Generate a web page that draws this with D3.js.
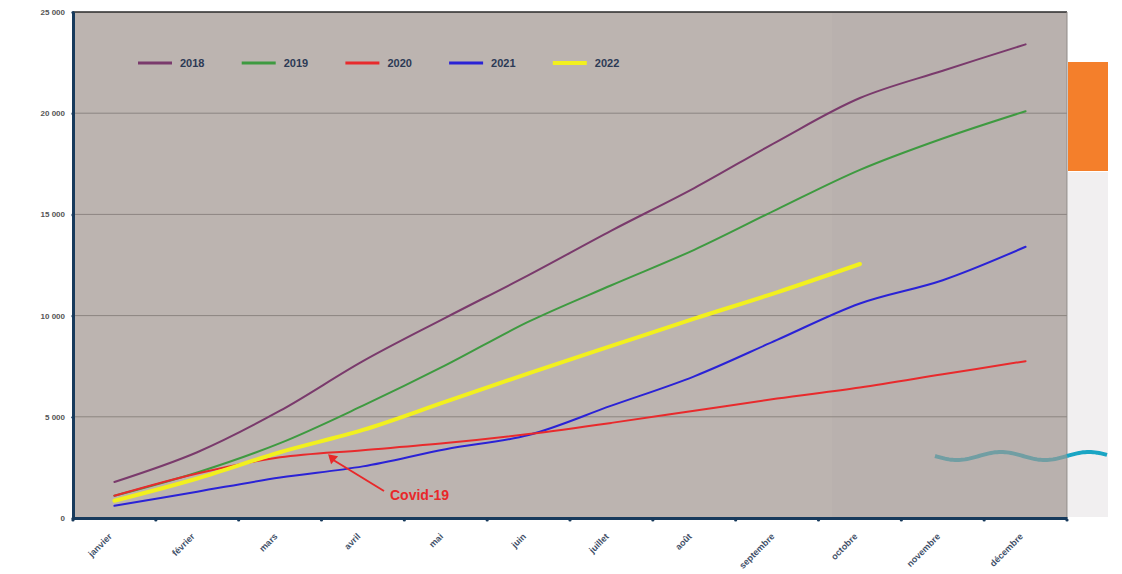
<!DOCTYPE html>
<html><head><meta charset="utf-8">
<script src="https://cdn.jsdelivr.net/npm/d3@7"></script>
<style>html,body{margin:0;padding:0;background:#fff;}svg{display:block;font-family:Arial,"Liberation Sans",sans-serif;}</style>
</head><body>
<svg id="c" width="1122" height="574"></svg>
<script>
const months = ["janvier","février","mars","avril","mai","juin","juillet","août","septembre","octobre","novembre","décembre"];
const yTicks = [0, 5000, 10000, 15000, 20000, 25000];
const years = ["2018","2019","2020","2021","2022"];
const v2018 = [1780, 3250, 5300, 7750, 9900, 12000, 14200, 16300, 18600, 20750, 22100, 23400];
const v2019 = [1100, 2250, 3700, 5550, 7550, 9700, 11500, 13250, 15250, 17200, 18750, 20100];
const v2020 = [1100, 2200, 3000, 3350, 3700, 4150, 4700, 5300, 5900, 6450, 7100, 7750];
const v2021 = [600, 1300, 2000, 2550, 3400, 4100, 5550, 7000, 8800, 10600, 11750, 13400];
const v2022 = [850, 1950, 3250, 4350, 5750, 7150, 8500, 9850, 11150, 12550];
const annotation = {text: "Covid-19", month: "mars", value: 3050};

const colors = {"2018":"#7a3a6c","2019":"#3e9a40","2020":"#e82a2c","2021":"#2a22d6","2022":"#f2f01e"};
const widths = {"2018":2,"2019":2,"2020":2,"2021":2,"2022":4};
const seriesVals = {"2018":v2018,"2019":v2019,"2020":v2020,"2021":v2021,"2022":v2022};

const L = 73, R = 1067, T = 12, B = 518;
const svg = d3.select("#c");
const x = d3.scaleBand().domain(months).range([L, R]).padding(0);
const y = d3.scaleLinear().domain([0, 25000]).range([B, T]);
const cx = m => x(m) + x.bandwidth()/2;

// right-side decorations
svg.append("rect").attr("x", R+1).attr("y", 172).attr("width", 40).attr("height", 345).attr("fill", "#f1eff0");
svg.append("rect").attr("x", R+1).attr("y", 62).attr("width", 40).attr("height", 109).attr("fill", "#f47f2b");

// plot bg
svg.append("rect").attr("x", L).attr("y", T).attr("width", R-L).attr("height", B-T).attr("fill", "#bcb4b0");
svg.append("rect").attr("x", 832).attr("y", T).attr("width", R-832).attr("height", B-T).attr("fill", "#b9b1ae");

// grid
svg.append("g").selectAll("line").data(yTicks.filter(d => d > 0 && d < 25000)).join("line")
  .attr("x1", L).attr("x2", R).attr("y1", d => y(d)).attr("y2", d => y(d))
  .attr("stroke", "#8c8581").attr("stroke-width", 1);
svg.append("line").attr("x1", L).attr("x2", R).attr("y1", T).attr("y2", T).attr("stroke", "#2a2a2a").attr("stroke-width", 1.5);
svg.append("line").attr("x1", R).attr("x2", R).attr("y1", T).attr("y2", B).attr("stroke", "#8f8a88").attr("stroke-width", 1);

// wave decoration
const wave = d3.range(0, 173, 2).map(i => [935 + i, 456 + 4*Math.sin(i/14)]);
svg.append("path").attr("d", d3.line()(wave.filter(p => p[0] <= R))).attr("fill", "none").attr("stroke", "#5f9aa0").attr("stroke-width", 4).attr("opacity", 0.8);
svg.append("path").attr("d", d3.line()(wave.filter(p => p[0] >= R))).attr("fill", "none").attr("stroke", "#1aa5c4").attr("stroke-width", 4);

// lines
const line = d3.line().x((d,i) => cx(months[i])).y(d => y(d)).curve(d3.curveCatmullRom.alpha(0.5));
["2018","2019","2021","2020","2022"].forEach(k => {
  svg.append("path").attr("d", line(seriesVals[k])).attr("fill", "none")
    .attr("stroke", colors[k]).attr("stroke-width", widths[k]).attr("stroke-linejoin", "round").attr("stroke-linecap", "round");
});

// axes
const yAxis = d3.axisLeft(y).tickValues(yTicks).tickSize(0).tickPadding(8)
  .tickFormat(d => d3.format(",")(d).replace(/,/g, " "));
const gy = svg.append("g").attr("transform", `translate(${L},0)`).call(yAxis);
gy.select(".domain").attr("stroke", "#173a5c").attr("stroke-width", 3);
gy.selectAll("text").attr("fill", "#555").attr("font-size", 8).attr("font-weight", "bold");
gy.selectAll(".tick").append("circle").attr("r", 1.6).attr("fill", "#173a5c");

const xAxis = d3.axisBottom(x).tickSize(0).tickPadding(10);
const gx = svg.append("g").attr("transform", `translate(0,${B})`).call(xAxis);
gx.select(".domain").attr("stroke", "#173a5c").attr("stroke-width", 3);
gx.selectAll("text").attr("fill", "#3f5068").attr("font-size", 9).attr("font-weight", "bold")
  .attr("text-anchor", "end").attr("dy", 0)
  .attr("transform", "translate(-9,12) rotate(-45)");
svg.append("g").selectAll("circle").data(d3.range(months.length + 1)).join("circle")
  .attr("cx", i => L + i * x.bandwidth()).attr("cy", B + 2).attr("r", 1.6).attr("fill", "#173a5c");

// legend
const lg = svg.append("g");
years.forEach((k, i) => {
  const lx = 138 + i * 103.7;
  lg.append("line").attr("x1", lx).attr("x2", lx + 34).attr("y1", 63).attr("y2", 63)
    .attr("stroke", colors[k]).attr("stroke-width", k === "2022" ? 4 : 3);
  lg.append("text").attr("x", lx + 42).attr("y", 67).text(k).attr("fill", "#2c3a55")
    .attr("font-size", 11).attr("font-weight", "bold");
});

// annotation
const ax = cx(annotation.month) + 48, ay = y(annotation.value) - 2;
svg.append("line").attr("x1", 384).attr("y1", 491).attr("x2", ax + 4).attr("y2", ay + 5)
  .attr("stroke", "#e8282a").attr("stroke-width", 2);
svg.append("path").attr("d", `M${ax},${ay} L${ax+10},${ay+2} L${ax+3},${ay+10} Z`).attr("fill", "#e8282a");
svg.append("text").attr("x", 390).attr("y", 500).text(annotation.text).attr("fill", "#e8282a")
  .attr("font-size", 14).attr("font-weight", "bold");
</script>
</body></html>
